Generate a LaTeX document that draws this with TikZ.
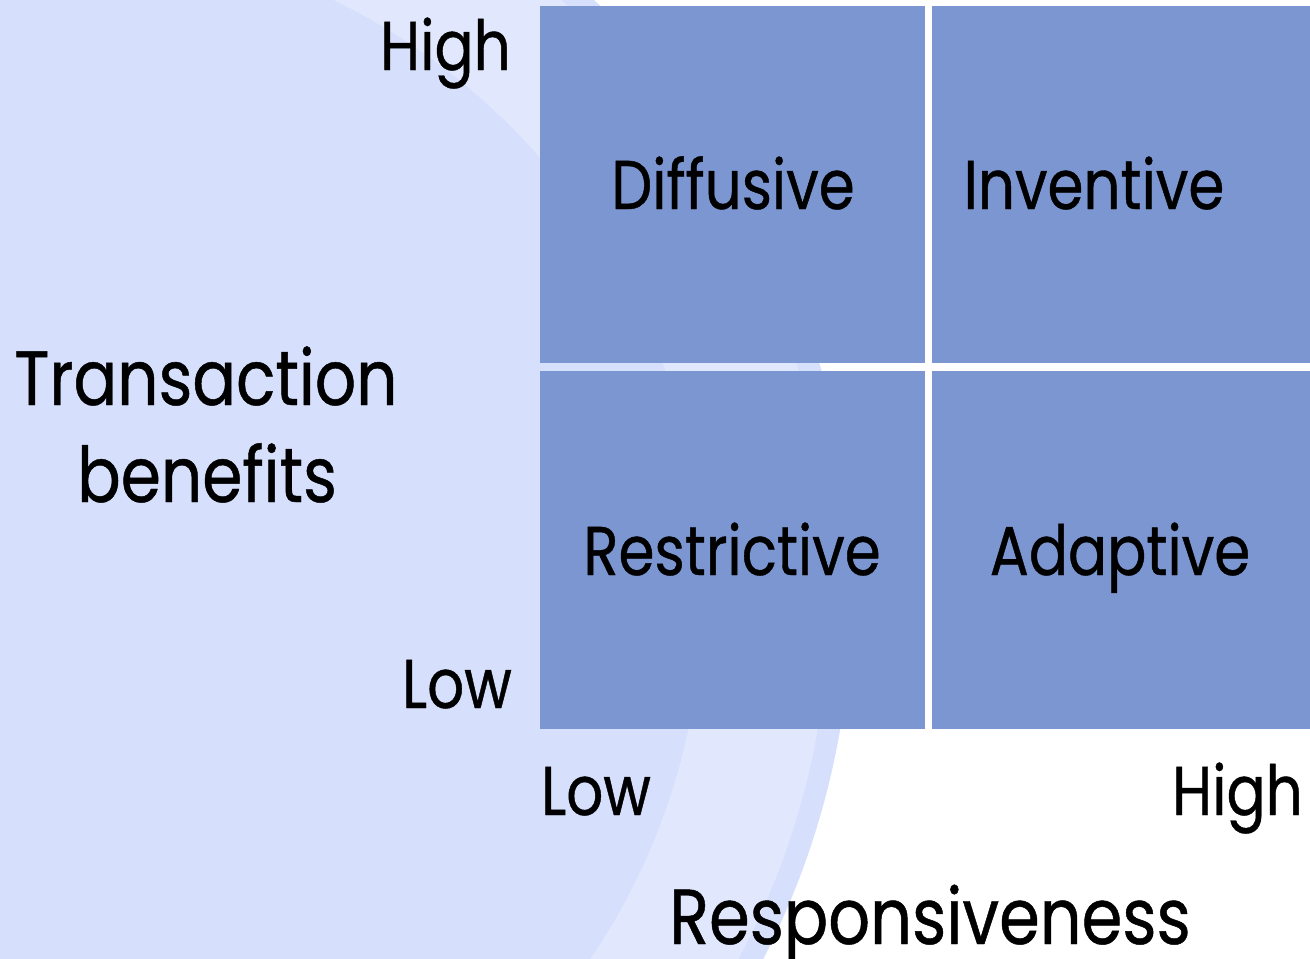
\documentclass[tikz,border=0pt]{standalone}
\usepackage{fontspec}
\setmainfont[FakeStretch=0.84,FakeBold=0.6]{Poppins}
\definecolor{ringA}{RGB}{214,224,253}
\definecolor{ringB}{RGB}{225,232,253}
\definecolor{cellc}{RGB}{123,150,209}
\begin{document}
\begin{tikzpicture}[x=1pt,y=-1pt,
  cell/.style={fill=cellc, draw=none, inner sep=0pt, anchor=north west},
  lab/.style={inner sep=0pt, text=black, font=\fontsize{69}{80}\selectfont},
  axis/.style={inner sep=0pt, text=black, font=\fontsize{77}{90}\selectfont, anchor=base},
  big/.style={inner sep=0pt, text=black, font=\fontsize{78}{90}\selectfont, anchor=base}]
\useasboundingbox (0,0) rectangle (1310,959);
\clip (0,0) rectangle (1310,959);
\fill[white] (0,0) rectangle (1310,959);
\fill[ringA] (46,591) circle[radius=806];
\fill[ringB] (46,591) circle[radius=784];
\fill[ringA] (46,591) circle[radius=657];
% cells
\node[cell, minimum width=385pt, minimum height=357pt] (diff) at (540,6) {};
\node[cell, minimum width=385pt, minimum height=357pt] (inv) at (932,6) {};
\node[cell, minimum width=385pt, minimum height=358pt] (rest) at (540,371) {};
\node[cell, minimum width=385pt, minimum height=358pt] (adap) at (932,371) {};
% cell labels
\node[lab, anchor=base] (tdiff) at (733,209) {Diffusive};
\node[lab, anchor=base] (tinv) at (1094,209) {Inventive};
\node[lab, anchor=base] (trest) at (732,575) {Restrictive};
\node[lab, anchor=base] (tadap) at (1120,575) {Adaptive};
% axis ticks
\node[lab, anchor=base east] (yhigh) at (511,70) {High};
\node[lab, anchor=base east] (ylow) at (512,708) {Low};
\node[lab, anchor=base west] (xlow) at (541,815) {Low};
\node[lab, anchor=base east] (xhigh) at (1303,815) {High};
% axis titles
\node[axis] (ytitle1) at (206,405) {Transaction};
\node[axis] (ytitle2) at (207,502) {benefits};
\node[big] (xtitle) at (930,944) {Responsiveness};
\end{tikzpicture}
\end{document}
